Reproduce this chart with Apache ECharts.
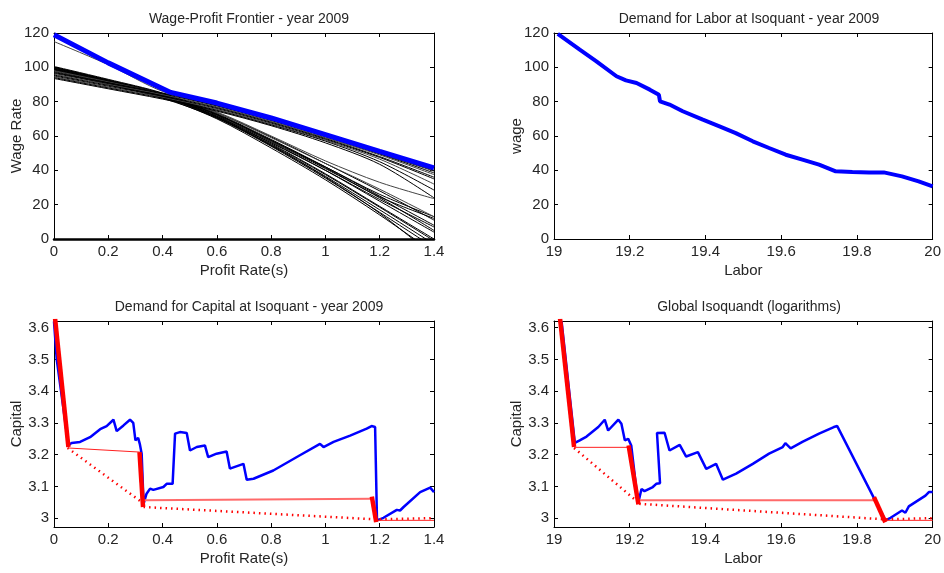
<!DOCTYPE html>
<html>
<head>
<meta charset="utf-8">
<script src="https://cdn.jsdelivr.net/npm/echarts@6/dist/echarts.min.js"></script>
<style>
  html, body { margin: 0; padding: 0; background: #fff; }
  #chart { width: 944px; height: 573px; }
</style>
</head>
<body>
<div id="chart"></div>
<script>
// --- datos ---

// Panel 1: frontera salario-beneficio
const profitRates = [0, 0.2, 0.4, 0.6, 0.8, 1.0, 1.2, 1.4];
// curvas técnicas (salario para cada tasa de beneficio)
const steepCurves = [
    [100.5, 93, 85, 73, 58, 42, 25, 8],
    [100, 92.5, 84.5, 72, 56.5, 40, 22, 4],
    [99.5, 92, 84, 71.5, 55.5, 38, 19, 0],
    [99, 91.5, 83.5, 71, 54.5, 36.5, 17, -3],
    [98.5, 91, 83, 70.5, 54, 35.5, 15.5, -5],
    [98, 90.5, 82.5, 70, 53, 34.5, 14, -8],
    [100, 92.5, 84.5, 72.5, 57.5, 41.5, 24.5, 12],
    [99.5, 92, 84, 72.5, 57.5, 42, 26, 13],
    [99, 91.5, 83.5, 71.5, 56, 40, 23, 7],
    [98.5, 91, 83, 71, 55, 37.5, 18.5, -1],
    [97.5, 90, 82, 70.5, 54.5, 36, 15, -10],
    [100, 92.5, 84.5, 73.5, 59.5, 44, 28, 11],
    [99, 91.5, 83.5, 72.5, 57, 41, 24, 5]
];
const middleCurves = [
    [97, 90.5, 84, 74, 60, 45.5, 33, 23.5],
    [98, 91.5, 84.5, 73.5, 59, 44, 29, 13]
];
const flatCurves = [
    [115, 101.5, 86, 77.8, 69.5, 59.8, 49.8, 39.5],
    [97, 91, 85, 78, 69.5, 60, 50, 40],
    [96.5, 90.5, 84.5, 77.5, 69, 59.5, 49.5, 38.5],
    [96, 90, 84, 77, 68.5, 59, 49, 37.5],
    [95.5, 89.5, 83.5, 76.5, 68, 58.5, 48, 36],
    [95, 89, 83, 76, 67.5, 58, 47.5, 35],
    [94.5, 88.5, 82.5, 75.5, 67, 57.5, 46.5, 32],
    [94, 88, 82, 75, 66.5, 57, 45, 28.5],
    [93.5, 87.5, 81.5, 74.5, 66, 56, 43.5, 24]
];
const frontierRates = [0, 0.2, 0.43, 0.6, 0.8, 1.0, 1.2, 1.4];
const frontierWages = [119, 102.6, 85.4, 79.2, 70.5, 60.8, 51, 41.4];

// Panel 2: demanda de trabajo
const laborDemand = [19.01, 19.068, 19.112, 19.165, 19.19, 19.218, 19.253, 19.277, 19.28, 19.305, 19.34, 19.393,
    19.437, 19.48, 19.525, 19.568, 19.612, 19.656, 19.7, 19.744, 19.788, 19.832, 19.871, 19.919, 19.963, 20];
const wageDemand = [119.5, 110.3, 103.5, 94.8, 92.4, 90.9, 87, 84, 80.2, 78.3, 74.4, 69.5,
    65.6, 61.7, 56.9, 53, 49.1, 46.2, 43.3, 39.4, 39, 38.8, 38.8, 36.5, 33.6, 30.7];

// Panel 3: demanda de capital según la tasa de beneficio
const capitalRates = [0, 0.01, 0.053, 0.065, 0.096, 0.133, 0.17, 0.194, 0.219, 0.231, 0.256, 0.28, 0.292, 0.3,
    0.31, 0.316, 0.323, 0.33, 0.341, 0.354, 0.366, 0.403, 0.415, 0.437, 0.446, 0.464, 0.489, 0.501, 0.526,
    0.556, 0.568, 0.599, 0.636, 0.648, 0.698, 0.71, 0.735, 0.808, 0.906, 0.98, 0.993, 1.03, 1.091, 1.152,
    1.17, 1.183, 1.19, 1.214, 1.263, 1.275, 1.288, 1.349, 1.386, 1.4];
const capitalByRate = [3.62, 3.5, 3.229, 3.237, 3.24, 3.255, 3.28, 3.29, 3.31, 3.274, 3.292, 3.31, 3.3, 3.245,
    3.253, 3.234, 3.203, 3.045, 3.077, 3.093, 3.089, 3.098, 3.108, 3.108, 3.266, 3.271, 3.268, 3.213, 3.224,
    3.229, 3.192, 3.203, 3.21, 3.156, 3.171, 3.121, 3.124, 3.15, 3.198, 3.234, 3.224, 3.24, 3.26, 3.282,
    3.29, 3.287, 2.993, 3.001, 3.026, 3.024, 3.035, 3.082, 3.096, 3.082];
const switchThick3 = [[[0.004, 3.628], [0.053, 3.224]], [[0.315, 3.208], [0.328, 3.035]], [[1.171, 3.068], [1.187, 2.987]]];
const switchThin3 = [[[0.05, 3.221], [0.317, 3.208]], [[1.187, 2.993], [1.4, 2.993]]];
const switchLight3 = [[[0.33, 3.056], [1.171, 3.061]]];
const switchDotted3 = [[[0.05, 3.221], [0.327, 3.048]], [[0.33, 3.035], [1.187, 2.996], [1.4, 3.0]]];

// Panel 4: isocuanta global (logaritmos)
const isoLabor = [19.02, 19.055, 19.068, 19.086, 19.117, 19.134, 19.143, 19.17, 19.178, 19.187, 19.196, 19.204,
    19.222, 19.231, 19.239, 19.261, 19.27, 19.28, 19.272, 19.292, 19.305, 19.332, 19.349, 19.38, 19.402,
    19.428, 19.446, 19.481, 19.525, 19.568, 19.604, 19.611, 19.625, 19.656, 19.7, 19.739, 19.748, 19.875,
    19.889, 19.919, 19.928, 19.937, 19.981, 19.99, 20];
const isoCapital = [3.62, 3.237, 3.245, 3.257, 3.287, 3.31, 3.276, 3.31, 3.297, 3.245, 3.25, 3.229,
    3.045, 3.092, 3.085, 3.098, 3.108, 3.11, 3.268, 3.269, 3.213, 3.231, 3.194, 3.208, 3.155,
    3.171, 3.121, 3.14, 3.171, 3.203, 3.224, 3.236, 3.22, 3.24, 3.266, 3.287, 3.29, 2.993,
    3.001, 3.024, 3.017, 3.037, 3.071, 3.082, 3.082];
const switchThick4 = [[[19.016, 3.628], [19.053, 3.224]], [[19.197, 3.229], [19.223, 3.043]], [[19.845, 3.066], [19.875, 2.987]]];
const switchThin4 = [[[19.053, 3.223], [19.2, 3.223]], [[19.875, 2.993], [20, 2.993]]];
const switchLight4 = [[[19.223, 3.056], [19.845, 3.056]]];
const switchDotted4 = [[[19.053, 3.221], [19.222, 3.05]], [[19.225, 3.045], [19.875, 2.996], [20, 3.0]]];

const capitalTicks = [3, 3.1, 3.2, 3.3, 3.4, 3.5, 3.6];

// --- estilo ---
const FONT = '"Liberation Sans Narrow", "Arial Narrow", "Liberation Sans", Arial, sans-serif';
const TXT = '#262626';

const grids = [
    { left: 54, top: 33, width: 380, height: 206 },
    { left: 554, top: 33, width: 380, height: 206 },
    { left: 54, top: 321, width: 380, height: 206 },
    { left: 554, top: 321, width: 380, height: 206 }
];

const panels = [
    { title: 'Wage-Profit Frontier - year 2009', xName: 'Profit Rate(s)', yName: 'Wage Rate',
      x: { min: 0, max: 1.4, interval: 0.2 }, y: { min: 0, max: 120, interval: 20 } },
    { title: 'Demand for Labor at Isoquant - year 2009', xName: 'Labor', yName: 'wage',
      x: { min: 19, max: 20, interval: 0.2 }, y: { min: 0, max: 120, interval: 20 } },
    { title: 'Demand for Capital at Isoquant - year 2009', xName: 'Profit Rate(s)', yName: 'Capital',
      x: { min: 0, max: 1.4, interval: 0.2 }, y: { min: 2.972, max: 3.621, ticks: capitalTicks } },
    { title: 'Global Isoquandt (logarithms)', xName: 'Labor', yName: 'Capital',
      x: { min: 19, max: 20, interval: 0.2 }, y: { min: 2.972, max: 3.621, ticks: capitalTicks } }
];

const xAxes = [];
const yAxes = [];
panels.forEach((p, i) => {
    const tick = { show: true, inside: true, length: 4, lineStyle: { color: '#000' } };
    xAxes.push({
        gridIndex: i, type: 'value', position: 'bottom',
        min: p.x.min, max: p.x.max, interval: p.x.interval,
        name: p.xName, nameLocation: 'middle', nameGap: 24,
        nameTextStyle: { fontFamily: FONT, fontSize: 15, color: TXT },
        axisLine: { show: true, onZero: false, lineStyle: { color: '#000', width: i === 0 ? 2.5 : 1 } },
        axisTick: tick, splitLine: { show: false },
        axisLabel: { fontFamily: FONT, fontSize: 15, color: TXT, margin: 5, showMinLabel: true, showMaxLabel: true }
    });
    xAxes.push({
        gridIndex: i, type: 'value', position: 'top',
        min: p.x.min, max: p.x.max, interval: p.x.interval,
        axisLine: { show: true, onZero: false, lineStyle: { color: '#000' } },
        axisTick: tick, axisLabel: { show: false }, splitLine: { show: false }
    });
    const yTick = p.y.ticks ? Object.assign({ customValues: p.y.ticks }, tick) : tick;
    const yLabel = { fontFamily: FONT, fontSize: 15, color: TXT, margin: 5 };
    if (p.y.ticks) yLabel.customValues = p.y.ticks;
    yAxes.push({
        gridIndex: i, type: 'value', position: 'left',
        min: p.y.min, max: p.y.max, interval: p.y.interval,
        name: p.yName, nameLocation: 'middle', nameGap: 30, nameRotate: 90,
        nameMoveOverlap: false,
        nameTextStyle: { fontFamily: FONT, fontSize: 15, color: TXT },
        axisLine: { show: true, onZero: false, lineStyle: { color: '#000' } },
        axisTick: yTick, axisLabel: yLabel, splitLine: { show: false }
    });
    yAxes.push({
        gridIndex: i, type: 'value', position: 'right',
        min: p.y.min, max: p.y.max, interval: p.y.interval,
        axisLine: { show: true, onZero: false, lineStyle: { color: '#000' } },
        axisTick: yTick, axisLabel: { show: false }, splitLine: { show: false }
    });
});

const titles = panels.map((p, i) => ({
    text: p.title,
    left: grids[i].left + grids[i].width / 2,
    textAlign: 'center',
    top: i < 2 ? 7 : 295,
    textStyle: { fontFamily: FONT, fontSize: 14, fontWeight: 'normal', color: TXT }
}));

function lineSeries(i, data, color, width, extra) {
    return Object.assign({
        type: 'line', xAxisIndex: 2 * i, yAxisIndex: 2 * i,
        data: data, showSymbol: false, symbol: 'none', silent: true,
        clip: true, animation: false,
        lineStyle: { color: color, width: width }
    }, extra || {});
}

const zip = (xs, ys) => xs.map((x, k) => [x, ys[k]]);
const series = [];

// panel 1
steepCurves.forEach(c => series.push(lineSeries(0, zip(profitRates, c), '#000', 1, { smooth: 0.3 })));
middleCurves.forEach(c => series.push(lineSeries(0, zip(profitRates, c), '#444', 1, { smooth: 0.3 })));
flatCurves.forEach((c, k) => series.push(lineSeries(0, zip(profitRates, c), k % 3 ? '#000' : '#444', 1, { smooth: 0.3 })));
series.push(lineSeries(0, zip(frontierRates, frontierWages), '#0000ff', 5));

// panel 2
series.push(lineSeries(1, zip(laborDemand, wageDemand), '#0000ff', 4));

// panel 3 and 4
[[2, zip(capitalRates, capitalByRate), switchThick3, switchThin3, switchLight3, switchDotted3],
 [3, zip(isoLabor, isoCapital), switchThick4, switchThin4, switchLight4, switchDotted4]].forEach(([i, blue, thick, thin, light, dotted]) => {
    series.push(lineSeries(i, blue, '#0000ff', 2.5));
    dotted.forEach(s => series.push(lineSeries(i, s, '#ff0000', 2.5, { lineStyle: { color: '#ff0000', width: 2.5, type: [1.5, 4] } })));
    light.forEach(s => series.push(lineSeries(i, s, '#ff6a6a', 2)));
    thin.forEach(s => series.push(lineSeries(i, s, '#ff2020', 1)));
    thick.forEach(s => series.push(lineSeries(i, s, '#ff0000', 4.5)));
});

const chart = echarts.init(document.getElementById('chart'), null, { renderer: 'canvas' });
chart.setOption({
    backgroundColor: '#ffffff',
    animation: false,
    title: titles,
    grid: grids,
    xAxis: xAxes,
    yAxis: yAxes,
    series: series
});
</script>
</body>
</html>
